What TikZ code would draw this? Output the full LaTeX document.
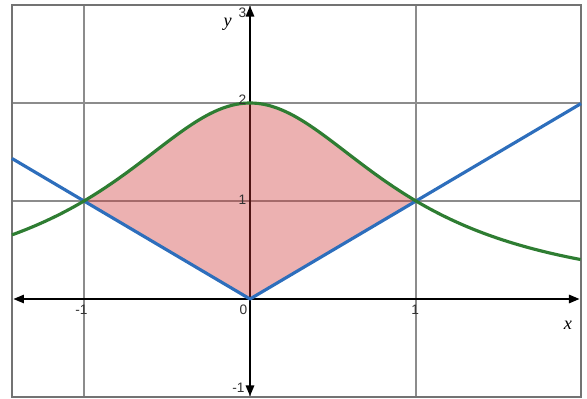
\documentclass[tikz,border=0pt]{standalone}
\usepackage{fontspec}
\setmainfont{Liberation Sans}
\newfontfamily\axisfont{Liberation Serif}
\usetikzlibrary{arrows.meta}
\definecolor{gridgray}{RGB}{140,140,140}
\definecolor{framegray}{RGB}{115,115,115}
\definecolor{curvegreen}{RGB}{46,125,50}
\definecolor{curveblue}{RGB}{45,110,188}
\definecolor{fillred}{RGB}{204,51,51}
\definecolor{labelgray}{RGB}{50,50,50}
\begin{document}
\begin{tikzpicture}[x=1.66cm,y=0.98cm,
  gridline/.style={draw=gridgray,line width=0.4pt},
  framebox/.style={draw=framegray,line width=0.55pt},
  axisline/.style={draw=black,line width=0.45pt,{Triangle[length=3pt,width=2.4pt]}-{Triangle[length=3pt,width=2.4pt]}},
  curve/.style={line width=0.9pt,line join=round},
  ticklab/.style={font=\fontsize{3.9}{4.5}\selectfont,text=labelgray,inner sep=0pt},
  axlab/.style={font=\fontsize{5.2}{6}\selectfont\axisfont\itshape,inner sep=0pt}]
\useasboundingbox (-1.506,-1.020) rectangle (2.030,3.051);
% grid
\foreach \gx in {-1,0,1} \draw[gridline] (\gx,-1) -- (\gx,3);
\foreach \gy in {1,2} \draw[gridline] (-1.434,\gy) -- (1.994,\gy);
\draw[framebox] (-1.434,-1) rectangle (1.994,3);
% axes
\draw[axisline] (-1.425,0) -- (1.985,0);
\draw[axisline] (0,-0.99) -- (0,2.99);
% shaded region
\fill[fillred,fill opacity=0.38] (-1,1) -- plot[domain=-1:1,samples=120,smooth] (\x,{2/(1+\x*\x)}) -- (0,0) -- cycle;
% curves
\draw[curve,curveblue] (-1.434,1.434) -- (0,0) -- (1.994,1.994);
\draw[curve,curvegreen] plot[domain=-1.434:1.994,samples=200,smooth] (\x,{2/(1+\x*\x)});
% tick labels
\node[ticklab] (xm1) at (-1.015,-0.11) {-1};
\node[ticklab] (x0) at (-0.04,-0.11) {0};
\node[ticklab] (x1) at (0.995,-0.11) {1};
\node[ticklab] (y3) at (-0.045,2.92) {3};
\node[ticklab] (y2) at (-0.045,2.03) {2};
\node[ticklab] (y1) at (-0.045,1.01) {1};
\node[ticklab] (ym1) at (-0.07,-0.91) {-1};
% axis labels
\node[axlab] (ylab) at (-0.135,2.80) {y};
\node[axlab] (xlab) at (1.915,-0.27) {x};
\end{tikzpicture}
\end{document}
